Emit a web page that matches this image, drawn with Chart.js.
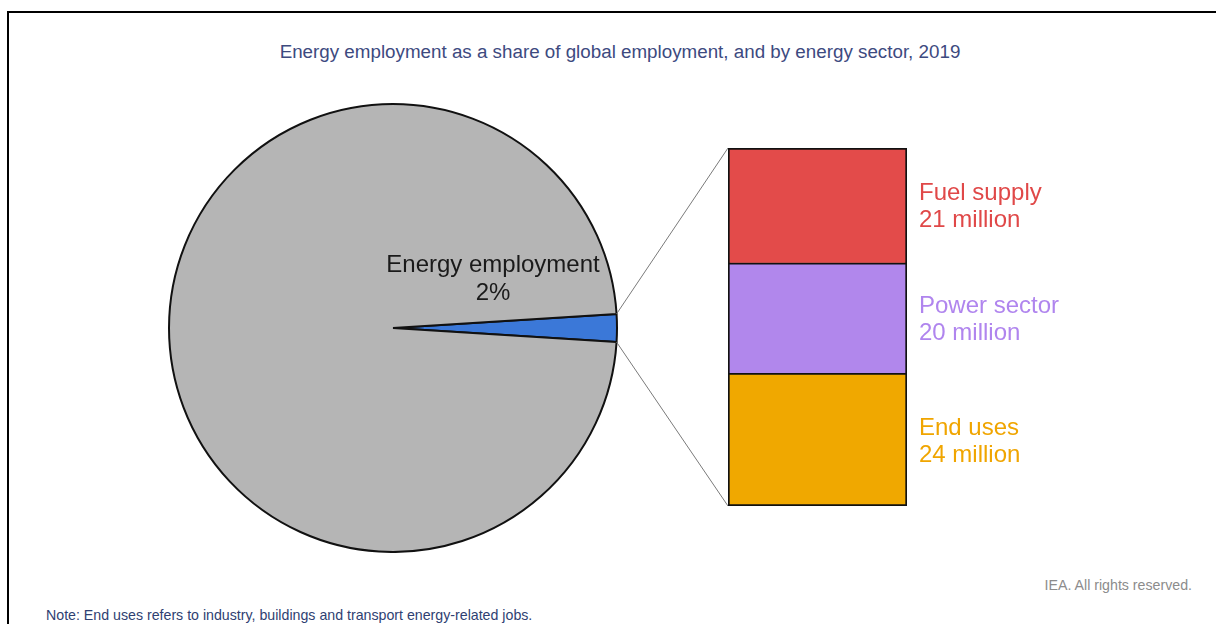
<!DOCTYPE html>
<html>
<head>
<meta charset="utf-8">
<script src="https://cdn.jsdelivr.net/npm/chart.js@4.4.1/dist/chart.umd.min.js"></script>
<style>
  html, body { margin: 0; padding: 0; background: #fff; overflow: hidden; }
  body { width: 1216px; height: 624px; position: relative; font-family: "Liberation Sans", Arial, sans-serif; }
  .frame { position: absolute; left: 7px; top: 11px; width: 1300px; height: 700px; border-top: 2px solid #000; border-left: 2px solid #000; }
  .title { position: absolute; left: 0; width: 1240px; top: 41px; text-align: center; font-size: 18.8px; color: #3d4a7f; }
  .credit { position: absolute; right: 24px; top: 577px; font-size: 14.2px; color: #8c8c8c; }
  .note { position: absolute; left: 46px; top: 607px; font-size: 14.2px; color: #2f3f72; }
  #pieChart { position: absolute; left: 168px; top: 103px; }
  #barChart { position: absolute; left: 600px; top: 100px; }
</style>
</head>
<body>
<div class="frame"></div>
<div class="title">Energy employment as a share of global employment, and by energy sector, 2019</div>
<canvas id="pieChart" width="450" height="450"></canvas>
<canvas id="barChart" width="616" height="460"></canvas>
<div class="credit">IEA. All rights reserved.</div>
<div class="note">Note: End uses refers to industry, buildings and transport energy-related jobs.</div>

<script>
// ----------------------
// Data
// ----------------------
const shareLabels = ["Energy employment", "Other employment"];
const shareValues = [2, 98]; // % of global employment
const shareColors = ["#3b78d8", "#b5b5b5"];

// sectors, top to bottom as drawn
const sectorLabels = ["Fuel supply", "Power sector", "End uses"];
const sectorValues = [21, 20, 24]; // million jobs
const sectorColors = ["#e34b4a", "#b187ec", "#f0a800"];
const sectorTextColors = ["#e04848", "#b085ee", "#f0a500"];

const FONT = '"Liberation Sans", Arial, sans-serif';

// ----------------------
// Pie: energy share
// ----------------------
const pieLabelPlugin = {
  id: "pieLabel",
  afterDatasetsDraw(chart) {
    const arc = chart.getDatasetMeta(0).data[0];
    const ctx = chart.ctx;
    ctx.save();
    ctx.font = "24px " + FONT;
    ctx.fillStyle = "#1a1a1a";
    ctx.textAlign = "center";
    ctx.textBaseline = "middle";
    const lx = arc.x + 100;
    ctx.fillText(shareLabels[0], lx, arc.y - 63);
    ctx.fillText(shareValues[0] + "%", lx, arc.y - 35);
    ctx.restore();
  }
};

// energy slice centred on 3 o'clock
const energyDeg = shareValues[0] / shareValues.reduce((a, b) => a + b, 0) * 360;

const pieChart = new Chart(document.getElementById("pieChart"), {
  type: "pie",
  data: {
    labels: shareLabels,
    datasets: [{
      data: shareValues,
      backgroundColor: shareColors,
      borderColor: "#111",
      borderWidth: 2
    }]
  },
  options: {
    responsive: false,
    animation: false,
    rotation: 90 - energyDeg / 2,
    layout: { padding: 0 },
    plugins: { legend: { display: false }, tooltip: { enabled: false } }
  },
  plugins: [pieLabelPlugin]
});

// ----------------------
// Stacked bar: by sector
// ----------------------
const pieBox = { left: 168, top: 103 };
const barBox = { left: 600, top: 100 };

const zoomLinesPlugin = {
  id: "zoomLines",
  beforeDatasetsDraw(chart) {
    const arc = pieChart.getDatasetMeta(0).data[0];
    const dx = pieBox.left - barBox.left, dy = pieBox.top - barBox.top;
    const r = arc.outerRadius;
    const p1 = { x: arc.x + dx + r * Math.cos(arc.startAngle), y: arc.y + dy + r * Math.sin(arc.startAngle) };
    const p2 = { x: arc.x + dx + r * Math.cos(arc.endAngle), y: arc.y + dy + r * Math.sin(arc.endAngle) };
    const area = chart.chartArea;
    const ctx = chart.ctx;
    ctx.save();
    ctx.strokeStyle = "#7a7a7a";
    ctx.lineWidth = 1;
    ctx.beginPath();
    ctx.moveTo(p1.x, p1.y); ctx.lineTo(area.left, area.top);
    ctx.moveTo(p2.x, p2.y); ctx.lineTo(area.left, area.bottom);
    ctx.stroke();
    ctx.restore();
  },
  afterDatasetsDraw(chart) {
    const ctx = chart.ctx;
    ctx.save();
    ctx.font = "24px " + FONT;
    ctx.textAlign = "left";
    ctx.textBaseline = "middle";
    chart.data.datasets.forEach((ds, i) => {
      const el = chart.getDatasetMeta(i).data[0];
      const cy = (el.y + el.base) / 2;
      const x = el.x + el.width / 2 + 12;
      ctx.fillStyle = ds.textColor;
      ctx.fillText(ds.label, x, cy - 12);
      ctx.fillText(ds.data[0] + " million", x, cy + 15);
    });
    ctx.restore();
  }
};

// bottom of stack first
const barDatasets = sectorLabels.map((label, i) => ({
  label,
  data: [sectorValues[i]],
  backgroundColor: sectorColors[i],
  textColor: sectorTextColors[i],
  borderColor: "#111",
  borderWidth: {
    top: i === 0 ? 2 : 1.2,
    bottom: i === sectorLabels.length - 1 ? 2 : 1.2,
    left: 2,
    right: 2
  },
  borderSkipped: false,
  barPercentage: 1,
  categoryPercentage: 1
})).reverse();

const barChart = new Chart(document.getElementById("barChart"), {
  type: "bar",
  data: { labels: ["2019"], datasets: barDatasets },
  options: {
    responsive: false,
    animation: false,
    layout: { padding: { left: 128, right: 309, top: 48, bottom: 54 } },
    scales: {
      x: { stacked: true, display: false },
      y: { stacked: true, display: false, min: 0, max: sectorValues.reduce((a, b) => a + b, 0) }
    },
    plugins: { legend: { display: false }, tooltip: { enabled: false } }
  },
  plugins: [zoomLinesPlugin]
});
</script>
</body>
</html>
